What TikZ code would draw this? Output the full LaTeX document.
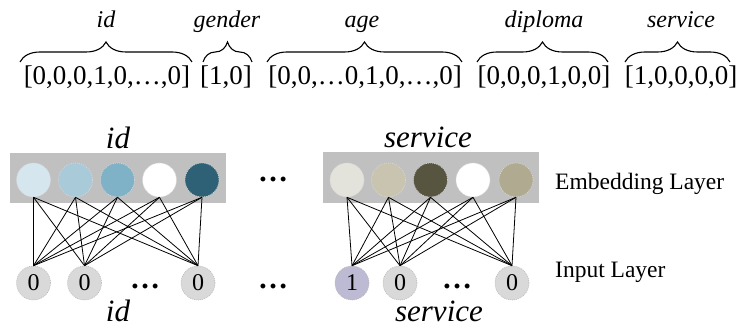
\documentclass[tikz,border=0pt]{standalone}
\usepackage{fontspec}
\setmainfont{Liberation Serif}
\usetikzlibrary{decorations.pathreplacing}
\definecolor{panelgray}{HTML}{C0C0C0}
\definecolor{inpgray}{HTML}{D9D9D9}
\definecolor{inppurple}{HTML}{BDBAD3}
\definecolor{ea}{HTML}{D6E6EE}
\definecolor{eb}{HTML}{A8CAD9}
\definecolor{ec}{HTML}{7FB1C7}
\definecolor{ed}{HTML}{FFFFFF}
\definecolor{ee}{HTML}{2F6176}
\definecolor{sa}{HTML}{E3E3DC}
\definecolor{sb}{HTML}{C8C4B0}
\definecolor{sc}{HTML}{575440}
\definecolor{sd}{HTML}{FFFFFF}
\definecolor{se}{HTML}{B0AA91}
\begin{document}
\begin{tikzpicture}[x=1pt,y=-1pt,
  brc/.style={decorate, decoration={brace, amplitude=20pt}, line width=1.1pt},
  toplab/.style={font=\fontsize{24}{24}\selectfont\itshape, anchor=base, inner sep=0pt},
  vec/.style={font=\fontsize{27}{27}\selectfont, anchor=base, inner sep=0pt},
  emb/.style={circle, minimum size=34pt, inner sep=0pt, draw=gray!30, dash pattern=on 1pt off 1pt, line width=0.6pt},
  inp/.style={circle, minimum size=34pt, inner sep=0pt, draw=gray!55, dash pattern=on 1pt off 1pt, line width=0.6pt, font=\fontsize{24}{24}\selectfont},
  panel/.style={fill=panelgray, draw=none},
  grplab/.style={font=\fontsize{31}{31}\selectfont\itshape, anchor=base, inner sep=0pt},
  dotsl/.style={font=\fontsize{30}{30}\selectfont\bfseries, anchor=base, inner sep=0pt},
  layerlab/.style={font=\fontsize{23.5}{23.5}\selectfont, anchor=base west, inner sep=0pt},
  conn/.style={line width=0.8pt}
]
\useasboundingbox (0,0) rectangle (739,328);

% top one-hot vectors
\node[vec] (v1) at (107,85) {[0,0,0,1,0,…,0]};
\node[vec] (v2) at (226,85) {[1,0]};
\node[vec] (v3) at (365,85) {[0,0,…0,1,0,…,0]};
\node[vec] (v4) at (544,85) {[0,0,0,1,0,0]};
\node[vec] (v5) at (681,85) {[1,0,0,0,0]};

\draw[brc] (20,62) -- (192,62);
\draw[brc] (203,62) -- (252,62);
\draw[brc] (267,62) -- (462,62);
\draw[brc] (477,62) -- (608,62);
\draw[brc] (625,62) -- (730,62);

\node[toplab] (l1) at (106,28) {id};
\node[toplab] (l2) at (227,28) {gender};
\node[toplab] (l3) at (362,28) {age};
\node[toplab] (l4) at (544,28) {diploma};
\node[toplab] (l5) at (681,28) {service};

% panels
\fill[panel] (10,153) rectangle (226,203);
\fill[panel] (323,152) rectangle (539,203);

% embedding circles
\node[emb, fill=ea] (e1) at (33.5,180) {};
\node[emb, fill=eb] (e2) at (75.5,180) {};
\node[emb, fill=ec] (e3) at (117.5,180) {};
\node[emb, fill=ed] (e4) at (159.5,180) {};
\node[emb, fill=ee] (e5) at (202,180) {};

\node[emb, fill=sa] (s1) at (347,180) {};
\node[emb, fill=sb] (s2) at (388.5,180) {};
\node[emb, fill=sc] (s3) at (430.5,180) {};
\node[emb, fill=sd] (s4) at (473,180) {};
\node[emb, fill=se] (s5) at (516,180) {};

% input circles
\node[inp, fill=inpgray] (i1) at (33.5,283) {0};
\node[inp, fill=inpgray] (i2) at (84.5,283) {0};
\node[inp, fill=inpgray] (i3) at (198,283) {0};
\node[inp, fill=inppurple] (j1) at (352,283) {1};
\node[inp, fill=inpgray] (j2) at (400,283) {0};
\node[inp, fill=inpgray] (j3) at (512,283) {0};

% connections
\foreach \a in {e1,e2,e3,e4,e5}
  \foreach \b in {i1,i2,i3}
    \draw[conn] (\a.south) -- (\b.north);
\foreach \a in {s1,s2,s3,s4,s5}
  \foreach \b in {j1,j2,j3}
    \draw[conn] (\a.south) -- (\b.north);

% dots
\node[dotsl] (d1) at (145,289) {…};
\node[dotsl] (d2) at (457,289) {…};
\node[dotsl] (d3) at (273,182) {…};
\node[dotsl] (d4) at (273,289) {…};

% group labels
\node[grplab] (g1) at (118,149) {id};
\node[grplab] (g2) at (428,148) {service};
\node[grplab] (g3) at (118,322) {id};
\node[grplab] (g4) at (439,322) {service};

% layer labels
\node[layerlab] (el) at (555,190) {Embedding Layer};
\node[layerlab] (il) at (555,278) {Input Layer};
\end{tikzpicture}
\end{document}
